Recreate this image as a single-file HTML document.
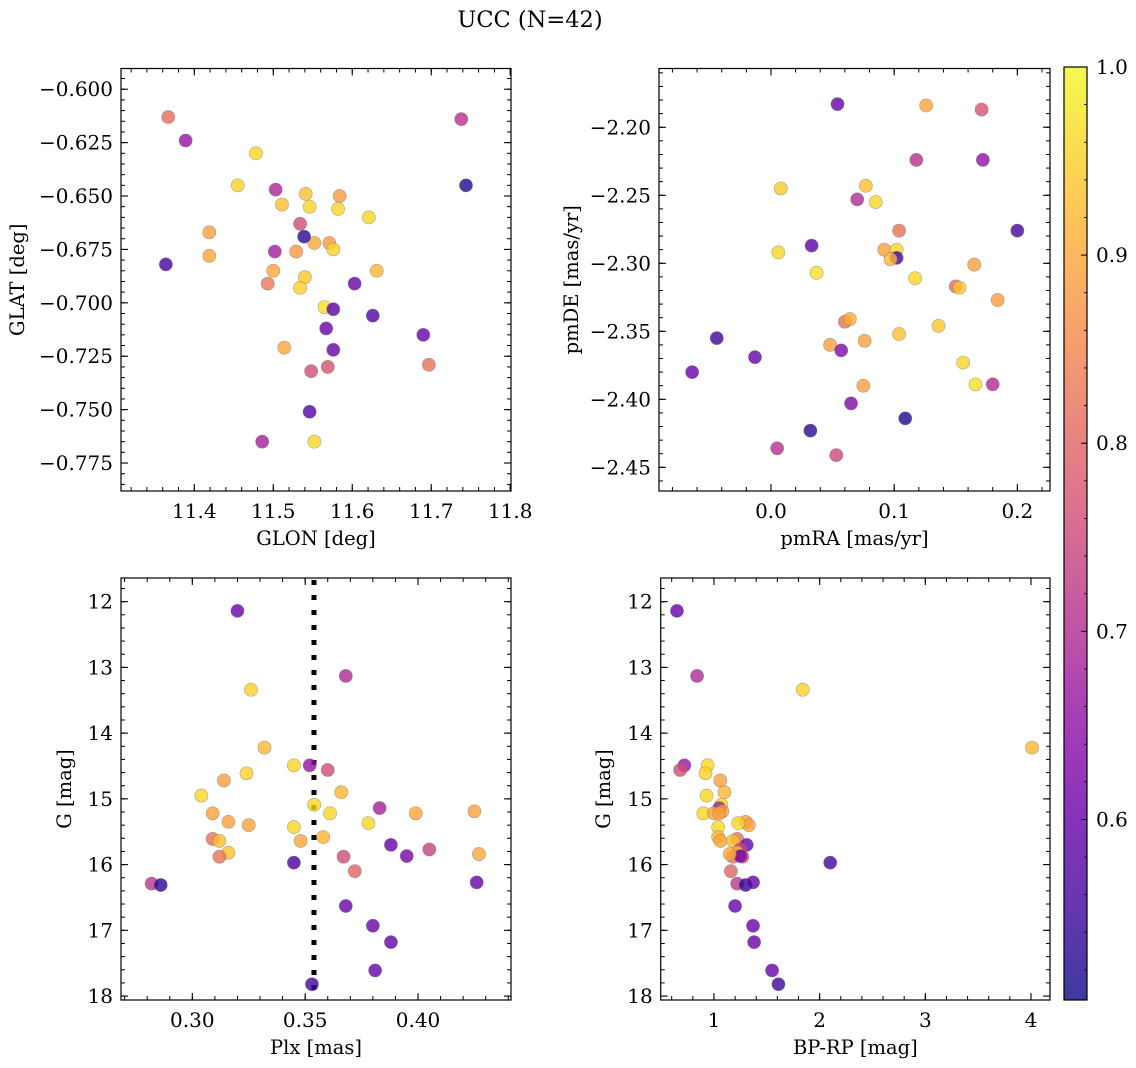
<!DOCTYPE html>
<html><head><meta charset="utf-8"><style>
html,body{margin:0;padding:0;background:#fff;}
svg{display:block;font-family:"DejaVu Serif","Liberation Serif",serif;}
</style></head><body>
<svg id="chart" width="1136" height="1068" viewBox="0 0 1136 1068" xmlns="http://www.w3.org/2000/svg">
<text x="530" y="27" font-size="22.5" text-anchor="middle">UCC (N=42)</text>
</svg>
<script>
// ---- Panel 1: GLON / GLAT ----
const glon1 = [11.367,11.389,11.478,11.455,11.738,11.744,11.503,11.511,11.541,11.546,11.584,11.582,11.621,11.534,11.419,11.552,11.539,11.571,11.576,11.502,11.529,11.364,11.419,11.631,11.500,11.540,11.493,11.534,11.603,11.565,11.576,11.626,11.567,11.690,11.576,11.514,11.697,11.548,11.569,11.546,11.486,11.552];
const glat1 = [-0.613,-0.624,-0.630,-0.645,-0.614,-0.645,-0.647,-0.654,-0.649,-0.655,-0.650,-0.656,-0.660,-0.663,-0.667,-0.672,-0.669,-0.672,-0.675,-0.676,-0.676,-0.682,-0.678,-0.685,-0.685,-0.688,-0.691,-0.693,-0.691,-0.702,-0.703,-0.706,-0.712,-0.715,-0.722,-0.721,-0.729,-0.732,-0.730,-0.751,-0.765,-0.765];
const prob1 = [0.81,0.66,0.96,0.95,0.71,0.52,0.69,0.93,0.93,0.96,0.88,0.96,0.96,0.76,0.89,0.9,0.53,0.88,0.95,0.68,0.88,0.56,0.9,0.92,0.9,0.94,0.83,0.95,0.6,0.97,0.58,0.57,0.6,0.6,0.6,0.9,0.82,0.76,0.77,0.57,0.68,0.96];
// ---- Panel 2: pmRA / pmDE ----
const pmra2 = [0.054,0.126,0.171,0.118,0.172,0.008,0.077,0.070,0.085,0.104,0.200,0.006,0.033,0.092,0.102,0.102,0.097,0.165,0.037,0.117,0.150,0.153,0.184,0.060,0.064,-0.044,-0.013,-0.064,0.048,0.057,0.076,0.104,0.136,0.156,0.166,0.180,0.075,0.065,0.109,0.032,0.005,0.053];
const pmde2 = [-2.183,-2.184,-2.187,-2.224,-2.224,-2.245,-2.243,-2.253,-2.255,-2.276,-2.276,-2.292,-2.287,-2.290,-2.290,-2.296,-2.297,-2.301,-2.307,-2.311,-2.317,-2.318,-2.327,-2.343,-2.341,-2.355,-2.369,-2.380,-2.360,-2.364,-2.357,-2.352,-2.346,-2.373,-2.389,-2.389,-2.390,-2.403,-2.414,-2.423,-2.436,-2.441];
const prob2 = [0.6,0.9,0.77,0.71,0.65,0.94,0.93,0.70,0.96,0.82,0.56,0.96,0.58,0.89,0.96,0.56,0.92,0.89,0.97,0.96,0.81,0.94,0.89,0.82,0.91,0.55,0.6,0.6,0.89,0.63,0.89,0.93,0.94,0.96,0.97,0.70,0.89,0.63,0.52,0.53,0.71,0.75];
// ---- Panels 3 & 4: Plx, BP-RP vs G ----
const plx3 = [0.320,0.326,0.368,0.332,0.345,0.352,0.360,0.324,0.314,0.304,0.366,0.354,0.361,0.383,0.399,0.425,0.309,0.316,0.325,0.378,0.345,0.358,0.348,0.309,0.312,0.388,0.405,0.316,0.312,0.345,0.367,0.395,0.427,0.372,0.282,0.286,0.426,0.368,0.380,0.388,0.381,0.353];
const gmag = [12.14,13.34,13.13,14.22,14.49,14.49,14.56,14.61,14.72,14.95,14.90,15.09,15.22,15.14,15.22,15.19,15.22,15.35,15.40,15.37,15.43,15.58,15.64,15.61,15.64,15.70,15.77,15.82,15.88,15.97,15.88,15.87,15.84,16.10,16.29,16.31,16.27,16.63,16.93,17.18,17.61,17.82];
const bprp4 = [0.65,1.84,0.84,4.01,0.94,0.72,0.68,0.92,1.06,0.93,1.10,1.07,0.90,1.05,1.00,1.08,1.05,1.30,1.33,1.23,1.04,1.04,1.06,1.22,1.18,1.31,1.25,1.22,1.18,2.10,1.27,1.25,1.15,1.16,1.22,1.30,1.37,1.20,1.37,1.38,1.55,1.61];
const prob3 = [0.6,0.95,0.7,0.92,0.96,0.66,0.76,0.95,0.89,0.96,0.92,0.96,0.96,0.68,0.9,0.89,0.89,0.89,0.89,0.96,0.96,0.92,0.9,0.82,0.93,0.6,0.74,0.93,0.82,0.56,0.76,0.62,0.9,0.8,0.72,0.53,0.6,0.6,0.6,0.6,0.6,0.55];
const plxLine = 0.3539;
// ticks
const xt1 = [11.4,11.5,11.6,11.7,11.8], xt1L = ["11.4","11.5","11.6","11.7","11.8"];
const yt1 = [-0.600,-0.625,-0.650,-0.675,-0.700,-0.725,-0.750,-0.775];
const xt2 = [0.0,0.1,0.2], xt2L = ["0.0","0.1","0.2"];
const yt2 = [-2.20,-2.25,-2.30,-2.35,-2.40,-2.45];
const xt3 = [0.30,0.35,0.40], xt3L = ["0.30","0.35","0.40"];
const ytG = [12,13,14,15,16,17,18];
const xt4 = [1,2,3,4];
const cbTicks = [0.6,0.7,0.8,0.9,1.0];
const cbMin = 0.504, cbMax = 1.0;

const NS = "http://www.w3.org/2000/svg";
const svg = document.getElementById('chart');
function el(tag, attrs, parent){ const e=document.createElementNS(NS,tag); for(const k in attrs) e.setAttribute(k,attrs[k]); (parent||svg).appendChild(e); return e; }
const plasma = [[13,8,135],[65,4,157],[106,0,168],[143,13,164],[177,42,144],[204,71,120],[225,100,98],[242,132,75],[252,166,54],[252,206,37],[240,249,33]];
function cmap(t){ t=Math.max(0,Math.min(1,t)); const f=t*10, i=Math.min(9,Math.floor(f)), r=f-i; const a=plasma[i], b=plasma[i+1]; return `rgb(${Math.round(a[0]+(b[0]-a[0])*r)},${Math.round(a[1]+(b[1]-a[1])*r)},${Math.round(a[2]+(b[2]-a[2])*r)})`; }
function pcol(p){ return cmap((p-cbMin)/(cbMax-cbMin)); }
const minus = s => s.replace('-','\u2212');
const FS = 20, FL = 19.5;

function panel(cfg){
  const g = el('g',{});
  
  
  const sx = v => cfg.x0 + (v-cfg.xd[0])/(cfg.xd[1]-cfg.xd[0])*(cfg.x1-cfg.x0);
  const sy = v => cfg.y0 + (v-cfg.yd[0])/(cfg.yd[1]-cfg.yd[0])*(cfg.y1-cfg.y0);
  const lo = Math.min(cfg.xd[0],cfg.xd[1]), hi=Math.max(cfg.xd[0],cfg.xd[1]);
  for(let k=Math.ceil(lo/cfg.xm-1e-6); k*cfg.xm<=hi+1e-9; k++){ const X=sx(k*cfg.xm);
    el('line',{x1:X,x2:X,y1:cfg.y1,y2:cfg.y1-4,stroke:'#000','stroke-width':1},g);
    el('line',{x1:X,x2:X,y1:cfg.y0,y2:cfg.y0+4,stroke:'#000','stroke-width':1},g); }
  const ylo=Math.min(cfg.yd[0],cfg.yd[1]), yhi=Math.max(cfg.yd[0],cfg.yd[1]);
  for(let k=Math.ceil(ylo/cfg.ym-1e-6); k*cfg.ym<=yhi+1e-9; k++){ const Y=sy(k*cfg.ym);
    el('line',{x1:cfg.x0,x2:cfg.x0+4,y1:Y,y2:Y,stroke:'#000','stroke-width':1},g);
    el('line',{x1:cfg.x1,x2:cfg.x1-4,y1:Y,y2:Y,stroke:'#000','stroke-width':1},g); }
  cfg.xt.forEach((v,i)=>{ const X=sx(v);
    el('line',{x1:X,x2:X,y1:cfg.y1,y2:cfg.y1-7,stroke:'#000','stroke-width':1.1},g);
    el('line',{x1:X,x2:X,y1:cfg.y0,y2:cfg.y0+7,stroke:'#000','stroke-width':1.1},g);
    const t=el('text',{x:X,y:cfg.y1+27,'font-size':FS,'text-anchor':'middle'},g); t.textContent=cfg.xl[i];
    
     });
  cfg.yt.forEach((v,i)=>{ const Y=sy(v);
    el('line',{x1:cfg.x0,x2:cfg.x0+7,y1:Y,y2:Y,stroke:'#000','stroke-width':1.1},g);
    el('line',{x1:cfg.x1,x2:cfg.x1-7,y1:Y,y2:Y,stroke:'#000','stroke-width':1.1},g);
    const t=el('text',{x:cfg.x0-8,y:Y+7,'font-size':FS,'text-anchor':'end'},g); t.textContent=cfg.yl[i];
    
     });
  if(cfg.vline!==undefined){ const X=sx(cfg.vline);
    const l=el('line',{x1:X,x2:X,y1:cfg.y0+2,y2:cfg.y1,stroke:'#000','stroke-width':5,'stroke-dasharray':'5 10'},g);
    
     }
  cfg.xs.forEach((v,i)=>{ const c=el('circle',{cx:sx(v),cy:sy(cfg.ys[i]),r:6.6,fill:pcol(cfg.ps[i]),'fill-opacity':0.8,stroke:'#777','stroke-opacity':0.6,'stroke-width':0.6},g);
    
     });
  const f=el('rect',{x:cfg.x0,y:cfg.y0,width:cfg.x1-cfg.x0,height:cfg.y1-cfg.y0,fill:'none',stroke:'#000','stroke-width':1.2},g);
  
  
  const xl=el('text',{x:(cfg.x0+cfg.x1)/2,y:cfg.y1+54,'font-size':FL,'text-anchor':'middle'},g); xl.textContent=cfg.xlabel;
  
  
  const yl=el('text',{x:0,y:0,'font-size':FL,'text-anchor':'middle',transform:`translate(${cfg.ylx},${(cfg.y0+cfg.y1)/2}) rotate(-90)`},g); yl.textContent=cfg.ylabel;
  
  
}
panel({name:'glon-glat-panel',x0:121,x1:511,y0:68.5,y1:491,xd:[11.3072,11.801],yd:[-0.5903,-0.7881],xm:0.02,ym:0.005,
  xt:xt1,xl:xt1L,yt:yt1,yl:yt1.map(v=>minus(v.toFixed(3))),xs:glon1,ys:glat1,ps:prob1,xlabel:'GLON [deg]',ylabel:'GLAT [deg]',ylx:24});
panel({name:'pm-panel',x0:659,x1:1050,y0:68.5,y1:491,xd:[-0.0909,0.2265],yd:[-2.1568,-2.4674],xm:0.02,ym:0.01,
  xt:xt2,xl:xt2L,yt:yt2,yl:yt2.map(v=>minus(v.toFixed(2))),xs:pmra2,ys:pmde2,ps:prob2,xlabel:'pmRA [mas/yr]',ylabel:'pmDE [mas/yr]',ylx:578});
panel({name:'plx-g-panel',x0:121,x1:511,y0:578,y1:1000,xd:[0.2684,0.4412],yd:[11.64,18.06],xm:0.01,ym:0.2,
  xt:xt3,xl:xt3L,yt:ytG,yl:ytG.map(String),xs:plx3,ys:gmag,ps:prob3,xlabel:'Plx [mas]',ylabel:'G [mag]',ylx:71,vline:plxLine});
panel({name:'cmd-panel',x0:660.7,x1:1050,y0:578,y1:1000,xd:[0.496,4.18],yd:[11.64,18.06],xm:0.2,ym:0.2,
  xt:xt4,xl:xt4.map(String),yt:ytG,yl:ytG.map(String),xs:bprp4,ys:gmag,ps:prob3,xlabel:'BP-RP [mag]',ylabel:'G [mag]',ylx:610});

// colorbar
const cb = el('g',{});


const cx0=1064, cx1=1087, cy0=67, cy1=1000;
const defs=el('defs',{},cb); const lg=el('linearGradient',{id:'cbg',x1:0,y1:1,x2:0,y2:0},defs);
for(let i=0;i<=10;i++) el('stop',{offset:i/10,'stop-color':cmap(i/10)},lg);
el('rect',{x:cx0,y:cy0,width:cx1-cx0,height:cy1-cy0,fill:'url(#cbg)','fill-opacity':0.8},cb);
el('rect',{x:cx0,y:cy0,width:cx1-cx0,height:cy1-cy0,fill:'none',stroke:'#000','stroke-width':1.2},cb);
const cby = v => cy1 - (v-cbMin)/(cbMax-cbMin)*(cy1-cy0);
for(let v=0.52; v<=1.0001; v+=0.02){ const Y=cby(v); el('line',{x1:cx1,x2:cx1-3,y1:Y,y2:Y,stroke:'#000','stroke-width':0.8},cb); }
cbTicks.forEach(v=>{ const Y=cby(v);
  el('line',{x1:cx1,x2:cx1-6,y1:Y,y2:Y,stroke:'#000','stroke-width':1},cb);
  const t=el('text',{x:cx1+9,y:Y+7,'font-size':FS},cb); t.textContent=v.toFixed(1);
  
   });
</script>
</body></html>
